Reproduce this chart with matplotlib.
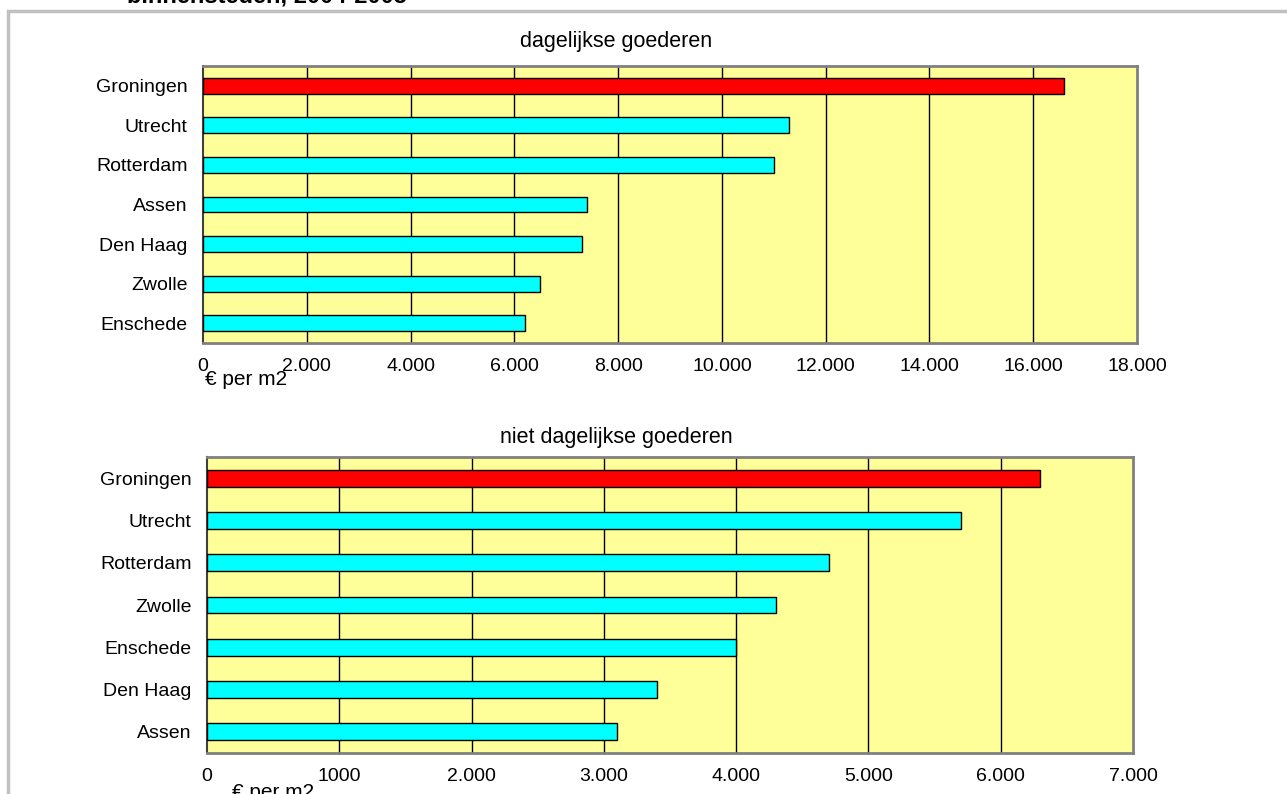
import matplotlib
matplotlib.use("Agg")
import matplotlib.pyplot as plt
from matplotlib.patches import Rectangle

plt.rcParams['font.family'] = ['Liberation Sans', 'DejaVu Sans']

# Data
cities_top = ["Groningen", "Utrecht", "Rotterdam", "Assen", "Den Haag", "Zwolle", "Enschede"]
values_top = [16600, 11300, 11000, 7400, 7300, 6500, 6200]
ticks_top = [0, 2000, 4000, 6000, 8000, 10000, 12000, 14000, 16000, 18000]
ticklabels_top = ["0", "2.000", "4.000", "6.000", "8.000", "10.000", "12.000", "14.000", "16.000", "18.000"]

cities_bot = ["Groningen", "Utrecht", "Rotterdam", "Zwolle", "Enschede", "Den Haag", "Assen"]
values_bot = [6300, 5700, 4700, 4300, 4000, 3400, 3100]
ticks_bot = [0, 1000, 2000, 3000, 4000, 5000, 6000, 7000]
ticklabels_bot = ["0", "1000", "2.000", "3.000", "4.000", "5.000", "6.000", "7.000"]

title_top = "dagelijkse goederen"
title_bot = "niet dagelijkse goederen"
unit_label = "€ per m2"
page_title = "binnensteden, 2004-2005"

W, H = 1287, 794
fig = plt.figure(figsize=(W / 100, H / 100), dpi=100)

def px_axes(left, top, right, bottom):
    return fig.add_axes([left / W, 1 - bottom / H, (right - left) / W, (bottom - top) / H])

# Outer frame
fig.patches.append(Rectangle((8 / W, -0.1), 1.2, 1 - 11 / H + 0.1, transform=fig.transFigure,
                             fill=False, edgecolor="#C0C0C0", linewidth=2.5, zorder=0))
fig.text(127 / W, 1 - 3 / H, page_title, fontsize=17, fontweight="bold", va="baseline", ha="left")

FS = 14

def draw(ax, cities, values, ticks, ticklabels, xmax):
    n = len(cities)
    ypos = list(range(n))
    colors = ["#FF0000"] + ["#00FFFF"] * (n - 1)
    ax.set_facecolor("#FFFF99")
    ax.barh(ypos, values, height=0.4, color=colors, edgecolor="black", linewidth=1, zorder=3)
    ax.set_ylim(n - 0.5, -0.5)
    ax.set_xlim(0, xmax)
    ax.set_yticks(ypos)
    ax.set_yticklabels(cities, fontsize=FS)
    ax.set_xticks(ticks)
    ax.set_xticklabels(ticklabels, fontsize=FS)
    ax.tick_params(axis="both", length=0, pad=11)
    for t in ticks[1:-1]:
        ax.axvline(t, color="black", linewidth=1, zorder=2)
    for s in ["top", "right", "bottom"]:
        ax.spines[s].set_color("#808080")
        ax.spines[s].set_linewidth(2)
    ax.spines["left"].set_color("#404040")
    ax.spines["left"].set_linewidth(1.5)

ax1 = px_axes(203, 66, 1137, 343)
draw(ax1, cities_top, values_top, ticks_top, ticklabels_top, 18000)
fig.text(616 / W, 1 - 41 / H, title_top, fontsize=15.5, ha="center", va="center")
fig.text(205 / W, 1 - 385 / H, unit_label, fontsize=15, ha="left", va="baseline")

ax2 = px_axes(207, 457, 1133, 753)
draw(ax2, cities_bot, values_bot, ticks_bot, ticklabels_bot, 7000)
fig.text(616 / W, 1 - 437 / H, title_bot, fontsize=15.5, ha="center", va="center")
fig.text(232 / W, 1 - 798 / H, unit_label, fontsize=15, ha="left", va="baseline")

fig.savefig("out.png", dpi=100)
